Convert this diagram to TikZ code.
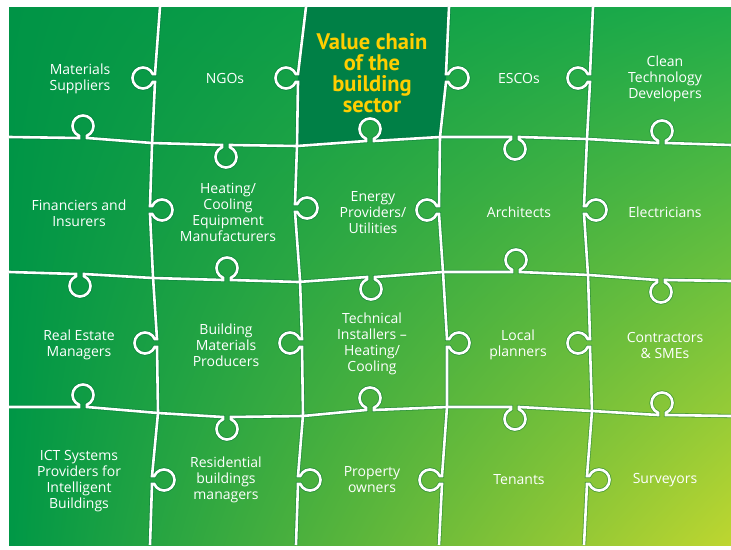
\documentclass[tikz,border=0pt]{standalone}
\usepackage{fontspec}
\usetikzlibrary{shadings}
\setmainfont{Open Sans}
\newfontfamily\titlefont{PT Sans}
\definecolor{gUL}{RGB}{0,148,70}
\definecolor{gUR}{RGB}{30,172,74}
\definecolor{gLL}{RGB}{0,152,70}
\definecolor{gLR}{RGB}{190,214,48}
\definecolor{chaingreen}{RGB}{0,128,70}
\definecolor{chainyellow}{RGB}{255,206,0}
\definecolor{edgegreen}{RGB}{0,105,55}
% knobs on the seams
\newcommand\knobup[2]{-- (#1-4,#2) -- (#1-4,#2-2.3) arc[start angle=247.6,end angle=-67.6,radius=10.5pt] -- (#1+4,#2)}
\newcommand\knobdown[2]{-- (#1-4,#2) -- (#1-4,#2+2.3) arc[start angle=112.4,end angle=427.6,radius=10.5pt] -- (#1+4,#2)}
\newcommand\knobright[2]{-- (#1,#2-4) -- (#1+2.3,#2-4) arc[start angle=157.6,end angle=-157.6,radius=10.5pt] -- (#1,#2+4)}
\newcommand\knobleft[2]{-- (#1,#2-4) -- (#1-2.3,#2-4) arc[start angle=22.4,end angle=337.6,radius=10.5pt] -- (#1,#2+4)}
\begin{document}
\begin{tikzpicture}
  [x=1pt,y=-1pt,
   seamedge/.style={draw=edgegreen,line width=4.2pt,opacity=.45},
   seam/.style={draw=white,line width=2.6pt},
   tag/.style={text=white,align=center,font=\fontsize{14}{16}\selectfont},
   headline/.style={text=chainyellow,align=center,font=\titlefont\bfseries\fontsize{22.5}{21}\selectfont}]
  \useasboundingbox[fill=white] (0,0) rectangle (731,549);
  \shade[upper left=gUL,upper right=gUR,lower left=gLL,lower right=gLR] (9,7) rectangle (731,545);
  % the dark piece
  \fill[chaingreen] (297,146) \knobup{370}{141} -- (440,137) -- (446,78) -- (449,7) -- (306,7) -- (298,78) -- cycle;
  % seams: first the dark edge, then the white line
  \foreach \pass in {seamedge,seam} {
    \draw[\pass] (9,137) \knobup{83}{138} -- (152,143) \knobdown{226}{145} -- (297,146) \knobup{370}{141}
      -- (440,137) \knobdown{515}{137} -- (587,139) \knobup{662}{143} -- (731,145);
    \draw[\pass] (9,272) \knobdown{80}{274} -- (153,278) \knobup{227}{280} -- (298,282) \knobdown{371}{277}
      -- (443,272) \knobup{516}{272} -- (589,275) \knobdown{661}{280} -- (731,281);
    \draw[\pass] (9,407) \knobup{83}{407} -- (158,413) \knobdown{227}{417} -- (303,416) \knobup{370}{410}
      -- (447,407) \knobdown{515}{407} -- (592,411) \knobup{662}{415} -- (731,416);
    \draw[\pass] (160,7) \knobleft{155}{78} -- (152,145) \knobright{150}{210} -- (153,277)
      \knobleft{157}{343} -- (158,413) \knobright{152}{480} -- (150,545);
    \draw[\pass] (306,7) \knobleft{298}{78} -- (297,146) \knobright{295}{208} -- (300,280)
      \knobleft{302}{343} -- (303,415) \knobright{298}{480} -- (296,545);
    \draw[\pass] (449,7) \knobright{446}{78} -- (440,137) \knobleft{439}{210} -- (443,272)
      \knobright{447}{343} -- (447,407) \knobleft{442}{480} -- (439,545);
    \draw[\pass] (593,7) \knobleft{590}{78} -- (587,139) \knobright{584}{210} -- (588,275)
      \knobleft{590}{343} -- (592,411) \knobright{587}{480} -- (584,545);
  }
  % pieces
  \node[tag] (suppliers) at (80,79) {Materials\\Suppliers};
  \node[tag] (ngos) at (225,78) {NGOs};
  \node[headline] (chain) at (372,73) {Value chain\\of the\\building\\sector};
  \node[tag] (escos) at (519,78) {ESCOs};
  \node[tag] (cleantech) at (665,79) {Clean\\Technology\\Developers};
  \node[tag] (financiers) at (79,213) {Financiers and\\Insurers};
  \node[tag] (hvac) at (228,212) {Heating/\\Cooling\\Equipment\\Manufacturers};
  \node[tag] (energy) at (373,213) {Energy\\Providers/\\Utilities};
  \node[tag] (architects) at (519,212) {Architects};
  \node[tag] (electricians) at (665,212) {Electricians};
  \node[tag] (realestate) at (79,345) {Real Estate\\Managers};
  \node[tag] (materials) at (226,345) {Building\\Materials\\Producers};
  \node[tag] (installers) at (372,344) {Technical\\Installers –\\Heating/\\Cooling};
  \node[tag] (planners) at (518,345) {Local\\planners};
  \node[tag] (contractors) at (665,345) {Contractors\\\& SMEs};
  \node[tag] (ict) at (79,481) {ICT Systems\\Providers for\\Intelligent\\Buildings};
  \node[tag] (residential) at (226,480) {Residential\\buildings\\managers};
  \node[tag] (owners) at (372,480) {Property\\owners};
  \node[tag] (tenants) at (519,480) {Tenants};
  \node[tag] (surveyors) at (665,480) {Surveyors};
\end{tikzpicture}
\end{document}
